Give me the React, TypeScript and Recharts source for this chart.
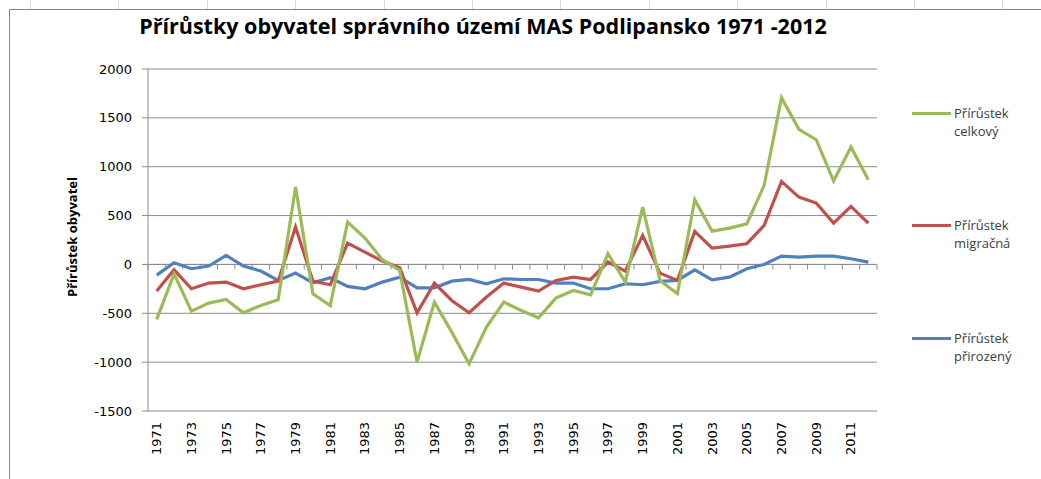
import React from "react";
import {
  LineChart,
  Line,
  XAxis,
  YAxis,
  CartesianGrid,
  ReferenceLine,
} from "recharts";

const YEARS = [
  "1971", "1972", "1973", "1974", "1975", "1976", "1977", "1978", "1979", "1980",
  "1981", "1982", "1983", "1984", "1985", "1986", "1987", "1988", "1989", "1990",
  "1991", "1992", "1993", "1994", "1995", "1996", "1997", "1998", "1999", "2000",
  "2001", "2002", "2003", "2004", "2005", "2006", "2007", "2008", "2009", "2010",
  "2011", "2012",
];

const CELKOVY = [
  -563, -96, -478, -396, -358, -495, -420, -362, 792, -300,
  -420, 433, 270, 48, -61, -1000, -386, -693, -1017, -642,
  -386, -471, -546, -345, -266, -311, 109, -181, 587, -164,
  -300, 662, 341, 372, 416, 809, 1707, 1382, 1276, 853,
  1201, 867,
];

const MIGRACNI = [
  -273, -55, -249, -191, -181, -249, -208, -171, 382, -171,
  -208, 218, 126, 34, -34, -495, -191, -369, -495, -334,
  -191, -232, -273, -164, -130, -154, 24, -68, 297, -89,
  -164, 338, 167, 188, 212, 399, 850, 689, 628, 423,
  594, 423,
];

const PRIROZENY = [
  -109, 17, -44, -17, 92, -17, -68, -164, -89, -188,
  -137, -225, -249, -181, -130, -239, -239, -171, -154, -198,
  -147, -154, -154, -191, -191, -249, -249, -198, -208, -174,
  -164, -55, -157, -130, -44, 0, 85, 75, 85, 85,
  58, 24,
];

const Y_TICKS = [-1500, -1000, -500, 0, 500, 1000, 1500, 2000];

const SERIES = [
  { key: "celkovy", label: ["Přírůstek", "celkový"], color: "#9BBB59", top: 104 },
  { key: "migracni", label: ["Přírůstek", "migračná"], color: "#C0504D", top: 216 },
  { key: "prirozeny", label: ["Přírůstek", "přirozený"], color: "#4F81BD", top: 329 },
];

const TITLE = "Přírůstky obyvatel správního území MAS Podlipansko 1971 -2012";
const Y_TITLE = "Přírůstek obyvatel";

const data = YEARS.map((year, i) => ({
  year,
  celkovy: CELKOVY[i],
  migracni: MIGRACNI[i],
  prirozeny: PRIROZENY[i],
}));

const TICK_FONT = "'DejaVu Sans', sans-serif";
const TEXT_FONT = "'Open Sans', sans-serif";
const GRID = "#8c8c8c";

// rotated year labels, reading bottom-to-top
const YearTick = (props: any) => {
  const { x, y, payload } = props;
  return (
    <text
      x={x}
      y={y}
      transform={`rotate(-90 ${x} ${y})`}
      textAnchor="end"
      dominantBaseline="central"
      fill="#000"
      fontSize={13}
      fontFamily={TICK_FONT}
    >
      {payload.value}
    </text>
  );
};

// zero line acts as the category axis, with tick marks between categories
const ZeroAxis = (props: any) => {
  const { x1, x2, y1 } = props;
  const n = YEARS.length;
  const step = (x2 - x1) / n;
  const marks = [];
  for (let k = 0; k <= n; k++) {
    const x = x1 + k * step;
    marks.push(<line key={k} x1={x} x2={x} y1={y1} y2={y1 + 5} stroke={GRID} strokeWidth={1} />);
  }
  return (
    <g>
      <line x1={x1} x2={x2} y1={y1} y2={y1} stroke={GRID} strokeWidth={1} />
      {marks}
    </g>
  );
};

export default function App() {
  const cellLines = [];
  for (let k = 0; k < 12; k++) {
    const x = 30 + k * 88.4;
    cellLines.push(
      <div
        key={k}
        style={{ position: "absolute", left: x, top: 0, width: 1, height: 9, background: "#d0d7e5" }}
      />,
    );
  }

  return (
    <div
      style={{
        position: "fixed",
        left: 0,
        top: 0,
        width: 1041,
        height: 479,
        background: "#fff",
        overflow: "hidden",
      }}
    >
      {cellLines}
      {/* chart frame */}
      <div style={{ position: "absolute", left: 9, top: 9, width: 1100, height: 1, background: "#868686" }} />
      <div style={{ position: "absolute", left: 9, top: 9, width: 1, height: 500, background: "#868686" }} />

      <div
        style={{
          position: "absolute",
          left: 0,
          width: 966,
          top: 11,
          textAlign: "center",
          fontFamily: TEXT_FONT,
          fontWeight: 700,
          fontSize: 21.5,
          color: "#000",
          whiteSpace: "nowrap",
        }}
      >
        {TITLE}
      </div>

      <div
        style={{
          position: "absolute",
          left: 72,
          top: 237,
          transform: "translate(-50%, -50%) rotate(-90deg)",
          fontFamily: TEXT_FONT,
          fontWeight: 700,
          fontSize: 13,
          color: "#000",
          whiteSpace: "nowrap",
        }}
      >
        {Y_TITLE}
      </div>

      <div style={{ position: "absolute", left: 0, top: 0 }}>
        <LineChart
          width={1041}
          height={479}
          data={data}
          margin={{ top: 69, right: 164, bottom: 0, left: 88 }}
        >
          <CartesianGrid vertical={false} stroke={GRID} strokeWidth={1} />
          <XAxis
            dataKey="year"
            interval={1}
            axisLine={false}
            tickLine={false}
            tickSize={0}
            tickMargin={11}
            height={68}
            padding={{ left: 8.7, right: 8.7 }}
            tick={<YearTick />}
          />
          <YAxis
            domain={[-1500, 2000]}
            ticks={Y_TICKS}
            interval={0}
            width={60}
            axisLine={{ stroke: GRID }}
            tickLine={{ stroke: GRID }}
            tickSize={6}
            tickMargin={10}
            tick={{ fill: "#000", fontSize: 13, fontFamily: TICK_FONT }}
          />
          <ReferenceLine y={0} shape={<ZeroAxis />} />
          <Line
            dataKey="prirozeny"
            stroke="#4F81BD"
            strokeWidth={3.2}
            dot={false}
            activeDot={false}
            isAnimationActive={false}
          />
          <Line
            dataKey="migracni"
            stroke="#C0504D"
            strokeWidth={3.2}
            dot={false}
            activeDot={false}
            isAnimationActive={false}
          />
          <Line
            dataKey="celkovy"
            stroke="#9BBB59"
            strokeWidth={3.2}
            dot={false}
            activeDot={false}
            isAnimationActive={false}
          />
        </LineChart>
      </div>

      {SERIES.map((s) => (
        <div
          key={s.key}
          style={{
            position: "absolute",
            left: 912,
            top: s.top,
            display: "flex",
            alignItems: "flex-start",
            fontFamily: TEXT_FONT,
            fontSize: 13,
            lineHeight: "18px",
            color: "#404040",
          }}
        >
          <div style={{ width: 39, height: 3, background: s.color, marginTop: 8, marginRight: 3 }} />
          <div>
            <div>{s.label[0]}</div>
            <div>{s.label[1]}</div>
          </div>
        </div>
      ))}
    </div>
  );
}
